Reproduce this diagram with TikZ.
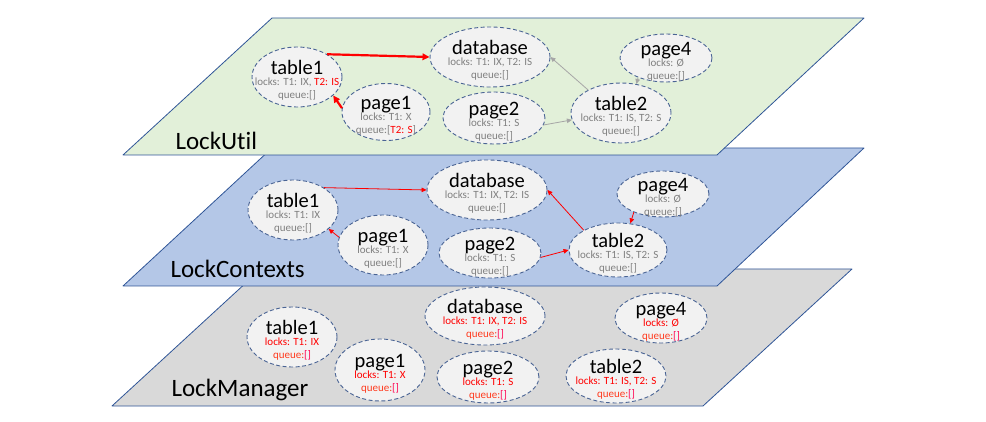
\documentclass[tikz,border=0pt]{standalone}
\usepackage{fontspec}
\setmainfont{Carlito}[Ligatures=NoCommon]
\usetikzlibrary{arrows.meta,shapes.geometric,positioning,calc}

\definecolor{utilgreen}{HTML}{E2F0D9}
\definecolor{ctxblue}{HTML}{B4C7E7}
\definecolor{mgrgray}{HTML}{D9D9D9}
\definecolor{edgeblue}{HTML}{2F5597}
\definecolor{objfill}{HTML}{F2F2F2}
\definecolor{dashblue}{HTML}{4A6494}
\definecolor{lockgray}{HTML}{808080}
\definecolor{arrowgray}{HTML}{A6A6A6}
\definecolor{queuered}{HTML}{FF3B1F}
\definecolor{bracketred}{HTML}{FF0050}

\newcommand{\objfont}{\fontsize{11}{13}\selectfont\lineskiplimit=-50pt\relax}
\newcommand{\objtitle}[1]{{\color{black}\fontsize{20.5}{10}\selectfont\rule{0pt}{20.5pt}#1}}
\newcommand{\mq}{{\color{queuered}queue:}{\color{bracketred}[]}}

\begin{document}
\begin{tikzpicture}[x=1pt, y=-1pt,
    layer/.style={draw=edgeblue, line width=0.8pt, line join=round},
    obj/.style={ellipse, draw=dashblue, dashed, dash pattern=on 4pt off 2.5pt,
        line width=0.9pt, fill=objfill, inner xsep=-30pt, inner ysep=-18pt,
        align=center, text=lockgray, font=\objfont},
    mgrobj/.style={obj, text=red},
    layername/.style={anchor=base west, font=\fontsize{25}{28}\selectfont},
    bigarrow/.style={red, line width=2.2pt, -{Triangle[length=7pt,width=6.5pt]}},
    ctxarrow/.style={red, line width=0.8pt, -{Triangle[length=5pt,width=4.5pt]}},
    utilarrow/.style={arrowgray, line width=0.8pt, -{Triangle[length=5pt,width=4.5pt]}}]

    \useasboundingbox (0,0) rectangle (986,422);

    % Layers, bottom one first
    \draw[layer, fill=mgrgray] (261,269) -- (852,269) -- (703,406) -- (112,406) -- cycle;
    \draw[layer, fill=ctxblue] (272,148) -- (864,148) -- (717,286) -- (123,286) -- cycle;
    \draw[layer, fill=utilgreen] (272,18) -- (864,18) -- (717,155) -- (123,155) -- cycle;

    % Layer names
    \node[layername] (utilname) at (172,150) {LockUtil};
    \node[layername] (ctxname) at (167,278) {LockContexts};
    \node[layername] (mgrname) at (168,396) {LockManager};

    % LockUtil objects
    \node[obj, minimum width=90pt, minimum height=60pt] (u-table1) at (297,77)
        {\objtitle{table1}\\[-2.5pt] locks: T1: IX, {\color{red}T2: IS}\\ queue:[]};
    \node[obj, minimum width=88pt, minimum height=57pt] (u-page1) at (386,112)
        {\objtitle{page1}\\[-2.5pt] locks: T1: X\\ queue:[{\color{red}T2: S}]};
    \node[obj, minimum width=120pt, minimum height=60pt] (u-database) at (490,57)
        {\objtitle{database}\\[-2.5pt] locks: T1: IX, T2: IS\\ queue:[]};
    \node[obj, minimum width=102pt, minimum height=52pt] (u-page2) at (494,118)
        {\objtitle{page2}\\[-2.5pt] locks: T1: S\\ queue:[]};
    \node[obj, minimum width=100pt, minimum height=60pt] (u-table2) at (621,113)
        {\objtitle{table2}\\[-2.5pt] locks: T1: IS, T2: S\\ queue:[]};
    \node[obj, minimum width=92pt, minimum height=48pt] (u-page4) at (666,58)
        {\objtitle{page4}\\[-2.5pt] locks: Ø\\ queue:[]};

    \draw[bigarrow] (u-table1.37) -- (u-database.west);
    \draw[bigarrow] (u-page1.175) -- (u-table1.-27);
    \draw[utilarrow] (u-table2.145) -- (u-database.east);
    \draw[utilarrow] (u-page2.-8) -- (u-table2.188);
    \draw[utilarrow] (u-page4.215) -- (u-table2.62);

    % LockContexts objects
    \node[obj, minimum width=90pt, minimum height=60pt] (c-table1) at (293,210)
        {\objtitle{table1}\\[-2.5pt] locks: T1: IX\\ queue:[]};
    \node[obj, minimum width=90pt, minimum height=60pt] (c-page1) at (383,245)
        {\objtitle{page1}\\[-2.5pt] locks: T1: X\\ queue:[]};
    \node[obj, minimum width=120pt, minimum height=60pt] (c-database) at (487,190)
        {\objtitle{database}\\[-2.5pt] locks: T1: IX, T2: IS\\ queue:[]};
    \node[obj, minimum width=102pt, minimum height=50pt] (c-page2) at (490,253)
        {\objtitle{page2}\\[-2.5pt] locks: T1: S\\ queue:[]};
    \node[obj, minimum width=98pt, minimum height=54pt] (c-table2) at (618,250)
        {\objtitle{table2}\\[-2.5pt] locks: T1: IS, T2: S\\ queue:[]};
    \node[obj, minimum width=92pt, minimum height=46pt] (c-page4) at (663,194)
        {\objtitle{page4}\\[-2.5pt] locks: Ø\\ queue:[]};

    \draw[ctxarrow] (c-table1.36) -- (c-database.west);
    \draw[ctxarrow] (c-page1.170) -- (c-table1.-28);
    \draw[ctxarrow] (c-table2.150) -- (c-database.east);
    \draw[ctxarrow] (c-page2.-5) -- (c-table2.west);
    \draw[ctxarrow] (c-page4.212) -- (c-table2.65);

    % LockManager objects
    \node[mgrobj, minimum width=90pt, minimum height=60pt] (m-table1) at (292,337)
        {\objtitle{table1}\\[-2.5pt] locks: T1: IX\\ \mq};
    \node[mgrobj, minimum width=90pt, minimum height=62pt] (m-page1) at (380,370)
        {\objtitle{page1}\\[-2.5pt] locks: T1: X\\ \mq};
    \node[mgrobj, minimum width=120pt, minimum height=58pt] (m-database) at (485,316)
        {\objtitle{database}\\[-2.5pt] locks: T1: IX, T2: IS\\ \mq};
    \node[mgrobj, minimum width=102pt, minimum height=52pt] (m-page2) at (488,377)
        {\objtitle{page2}\\[-2.5pt] locks: T1: S\\ \mq};
    \node[mgrobj, minimum width=100pt, minimum height=54pt] (m-table2) at (616,376)
        {\objtitle{table2}\\[-2.5pt] locks: T1: IS, T2: S\\ \mq};
    \node[mgrobj, minimum width=92pt, minimum height=50pt] (m-page4) at (661,318)
        {\objtitle{page4}\\[-2.5pt] locks: Ø\\ \mq};
\end{tikzpicture}
\end{document}
